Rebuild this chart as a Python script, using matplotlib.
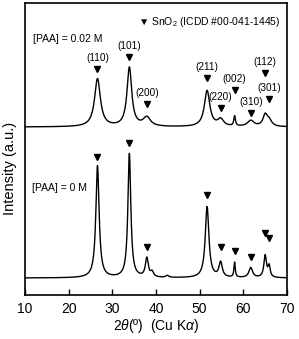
import numpy as np
import matplotlib
matplotlib.use("Agg")
import matplotlib.pyplot as plt

plt.rcParams['font.family'] = ['Liberation Sans', 'DejaVu Sans']
plt.rcParams['mathtext.fontset'] = 'custom'
plt.rcParams['mathtext.rm'] = 'Liberation Sans'
plt.rcParams['mathtext.it'] = 'Liberation Sans:italic'

# Reflection indices and positions (deg 2theta)
hkl = ["(110)", "(101)", "(200)", "(211)", "(220)", "(002)", "(310)", "(112)", "(301)"]
peak_pos = [26.6, 33.9, 37.9, 51.7, 54.8, 58.0, 61.7, 65.0, 65.9]

# [PAA] = 0.02 M : peak heights above baseline and half widths
top_base = 168
top_height = [48, 59, 9, 36, 7, 10, 6, 11, 6]
top_hwhm = [0.8, 0.65, 1.0, 0.75, 0.8, 0.22, 0.9, 0.6, 0.7]
top_marker_y = [226, 238, 191, 217, 187, 205, 182, 222, 196]

# [PAA] = 0 M
bot_base = 17
bot_height = [112, 124, 19, 71, 15, 15, 10, 22, 11]
bot_hwhm = [0.45, 0.4, 0.4, 0.5, 0.45, 0.18, 0.5, 0.35, 0.3]
bot_marker_y = [138, 152, 48, 100, 48, 44, 38, 62, 57]

# weak unindexed features in the [PAA] = 0 M pattern
extra_pos = [39.1, 42.6]
extra_height = [5, 2]
extra_hwhm = [0.4, 0.4]


def pattern(x, base, pos, heights, widths):
    y = np.full_like(x, float(base))
    for x0, h, w in zip(pos, heights, widths):
        y += h * w**2 / ((x - x0)**2 + w**2)
    return y


two_theta = np.linspace(10, 70, 1500)
top_curve = pattern(two_theta, top_base, peak_pos, top_height, top_hwhm)
bot_curve = pattern(two_theta, bot_base, peak_pos + extra_pos,
                    bot_height + extra_height, bot_hwhm + extra_hwhm)

fig = plt.figure(figsize=(2.99, 3.39), dpi=100)
ax = fig.add_axes([25/299, 1 - 295/339, 262/299, 292/339])

ax.plot(two_theta, top_curve, color='black', lw=1.0)
ax.plot(two_theta, bot_curve, color='black', lw=1.0)

ax.plot(peak_pos, top_marker_y, 'v', color='black', ms=4.5)
ax.plot(peak_pos, bot_marker_y, 'v', color='black', ms=4.5)
for x0, y0, lab in zip(peak_pos, top_marker_y, hkl):
    ax.text(x0, y0 + 6, lab, ha='center', va='bottom', fontsize=7.2)

ax.text(0.03, 0.875, "[PAA] = 0.02 M", transform=ax.transAxes, fontsize=7.5, ha='left', va='center')
ax.text(0.025, 0.365, "[PAA] = 0 M", transform=ax.transAxes, fontsize=7.5, ha='left', va='center')
ax.text(0.43, 0.935, "\u25bc SnO$_2$ (ICDD #00-041-1445)", transform=ax.transAxes,
        fontsize=7.5, ha='left', va='center')

ax.set_xlim(10, 70)
ax.set_ylim(0, 292)
ax.set_xticks(range(10, 71, 10))
ax.set_yticks([])
ax.tick_params(axis='x', direction='in', length=4, width=1, labelsize=10, pad=5)
for s in ax.spines.values():
    s.set_linewidth(1.2)

ax.set_xlabel(r"2$\it{\theta}$(º)  (Cu K$\alpha$)", fontsize=10, labelpad=1)
ax.set_ylabel("Intensity (a.u.)", fontsize=10.5)
ax.yaxis.set_label_coords(-0.03, 0.435)

fig.savefig("out.png", dpi=100)
